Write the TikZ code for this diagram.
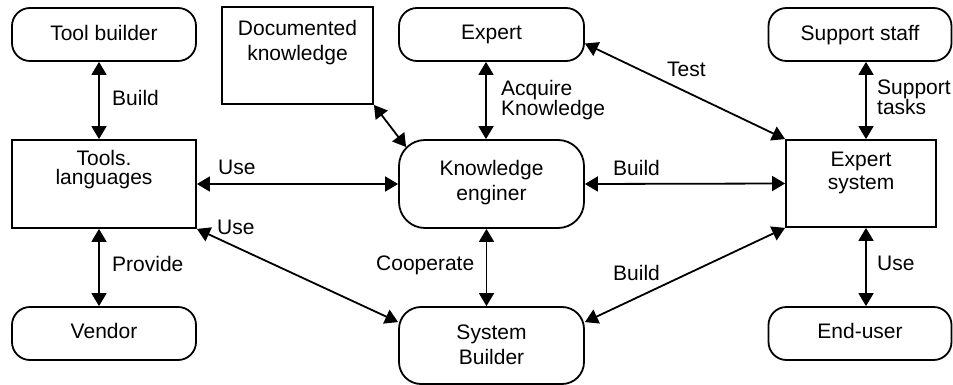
\documentclass[tikz,border=0pt]{standalone}
\usepackage{fontspec}
\setmainfont{Liberation Sans}
\usetikzlibrary{arrows.meta}
\newcommand{\fz}[1]{\fontsize{21}{#1}\selectfont}
\tikzset{
  box/.style={draw, line width=1.8pt, inner sep=0pt},
  rbox/.style={box, rounded corners=18pt},
  rbig/.style={box, rounded corners=26pt},
  rsb/.style={box, rounded corners=22pt},
  txt/.style={inner sep=0pt, align=center, anchor=north},
  lbl/.style={inner sep=0pt, align=left, anchor=north west, font=\fz{20}},
  conn/.style={line width=1.8pt, {Triangle[length=13pt,width=15pt]}-{Triangle[length=13pt,width=15pt]}},
}
\begin{document}
\begin{tikzpicture}[x=1pt, y=-1pt]
\useasboundingbox (0,0) rectangle (953,385);
% boxes
\node[rbox, minimum width=184pt, minimum height=53pt] (tb) at (104,34.5) {};
\node[box,  minimum width=151pt, minimum height=97pt] (dk) at (297.5,55.5) {};
\node[rbox, minimum width=185pt, minimum height=53pt] (ex) at (491.5,34.5) {};
\node[rbox, minimum width=183pt, minimum height=53pt] (ss) at (860,34.5) {};
\node[box,  minimum width=184pt, minimum height=88pt] (tl) at (104,184) {};
\node[rbig, minimum width=185pt, minimum height=88pt] (ke) at (491.5,184) {};
\node[box,  minimum width=150pt, minimum height=87pt] (es) at (861,183.5) {};
\node[rbox, minimum width=184pt, minimum height=53pt] (vd) at (104,333.5) {};
\node[rsb,  minimum width=185pt, minimum height=77pt] (sb) at (491.5,345.5) {};
\node[rbox, minimum width=183pt, minimum height=53pt] (eu) at (860,333.5) {};
% box texts
\node[txt, font=\fz{25}] (tbt) at (104,25) {Tool builder};
\node[txt, font=\fz{25}] (dkt) at (297.5,20) {Documented\\knowledge};
\node[txt, font=\fz{25}] (ext) at (491.5,25) {Expert};
\node[txt, font=\fz{25}] (sst) at (860,25) {Support staff};
\node[txt, font=\fz{19.5}] (tlt) at (104,150) {Tools.\\languages};
\node[txt, font=\fz{25}] (ket) at (491.5,160) {Knowledge\\enginer};
\node[txt, font=\fz{23}] (est) at (861,152) {Expert\\system};
\node[txt, font=\fz{25}] (vdt) at (104,323) {Vendor};
\node[txt, font=\fz{25}] (sbt) at (491.5,325) {System\\Builder};
\node[txt, font=\fz{25}] (eut) at (860,323) {End-user};
% connectors
\draw[conn] ([xshift=-5pt]tb.south) -- ([xshift=-5pt]tl.north);
\draw[conn] ([xshift=-5pt]tl.south) -- ([xshift=-5pt]vd.north);
\draw[conn] (dk.south east) -- ([shift={(8pt,-8pt)}]ke.north west);
\draw[conn] ([xshift=-5.5pt]ex.south) -- ([xshift=-5.5pt]ke.north);
\draw[conn] ([yshift=-9pt]ex.east) -- (es.north west);
\draw[conn] ([xshift=6pt]ss.south) -- ([xshift=5pt]es.north);
\draw[conn] (tl.east) -- (ke.west);
\draw[conn] (ke.east) -- (es.west);
\draw[conn] (tl.south east) -- ([yshift=-16pt]sb.north west);
\draw[conn] ([xshift=-5pt]ke.south) -- ([xshift=-5pt]sb.north);
\draw[conn] (es.south west) -- ([yshift=-16pt]sb.north east);
\draw[conn] ([xshift=5pt]es.south) -- ([xshift=6pt]eu.north);
% connector labels
\node[lbl] (l1) at (112,90) {Build};
\node[lbl] (l2) at (112,256) {Provide};
\node[lbl] (l3) at (501,80) {Acquire\\Knowledge};
\node[lbl] (l4) at (877,80) {Support\\tasks};
\node[lbl] (l5) at (667,62) {Test};
\node[lbl] (l6) at (218,160) {Use};
\node[lbl] (l7) at (613,160) {Build};
\node[lbl] (l8) at (217,220) {Use};
\node[lbl] (l9) at (376,256) {Cooperate};
\node[lbl] (l10) at (613,265) {Build};
\node[lbl] (l11) at (877,256) {Use};
\end{tikzpicture}
\end{document}
